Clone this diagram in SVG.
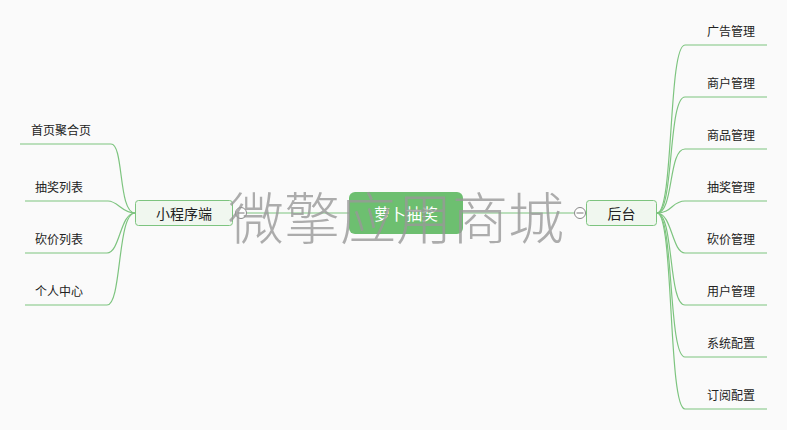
<svg xmlns="http://www.w3.org/2000/svg" width="787" height="430" viewBox="0 0 787 430">
<style>
.bg{fill:#fafafa}
.link{fill:none;stroke:#7dc47f;stroke-width:1.2}
.sub rect{fill:#f0f7ef;stroke:#7dc47f;stroke-width:1}
.sub text{font-family:"Noto Sans CJK SC","Liberation Sans",sans-serif;font-size:14px;fill:#222;text-anchor:middle;dominant-baseline:central}
.leaf text{font-family:"Noto Sans CJK SC","Liberation Sans",sans-serif;font-size:12px;fill:#222;dominant-baseline:central}
.root rect{fill:#6dbf70}
.root text{font-family:"Noto Sans CJK SC","Liberation Sans",sans-serif;font-size:16px;fill:#fff;text-anchor:middle;dominant-baseline:central}
.fold circle{fill:#fff;stroke:#888;stroke-width:1}
.fold line{stroke:#777;stroke-width:1}
.wm{font-family:"Noto Sans CJK SC","Liberation Sans",sans-serif;font-size:56px;font-weight:300;fill:#999;fill-opacity:0.8;text-anchor:middle;dominant-baseline:central}
</style>
<rect class="bg" x="0" y="0" width="787" height="430"/>
<g id="connectors">
  <line class="link" x1="247" y1="213" x2="574" y2="213"/>
  <path class="link" d="M135,213 C118,213 124,144 111,144 L20,144"/>
  <path class="link" d="M135,213 C122,213 118,201 108,201 L25,201"/>
  <path class="link" d="M135,213 C120,213 120,253 107,253 L25,253"/>
  <path class="link" d="M135,213 C117,213 122,305 107,305 L25,305"/>
  <path class="link" d="M657,213 C674,213 668,45 685,45 L767,45"/>
  <path class="link" d="M657,213 C674,213 668,97 685,97 L767,97"/>
  <path class="link" d="M657,213 C674,213 668,149 685,149 L767,149"/>
  <path class="link" d="M657,213 C672,213 672,201 685,201 L767,201"/>
  <path class="link" d="M657,213 C672,213 672,253 685,253 L767,253"/>
  <path class="link" d="M657,213 C674,213 668,305 685,305 L767,305"/>
  <path class="link" d="M657,213 C674,213 668,357 685,357 L767,357"/>
  <path class="link" d="M657,213 C674,213 668,409 685,409 L767,409"/>
</g>
<g id="root" class="root">
  <rect x="349" y="192" width="114" height="42" rx="6"/>
  <text x="406" y="213">萝卜抽奖</text>
</g>
<g id="miniapp" class="sub">
  <rect x="135.5" y="200.5" width="97" height="25" rx="3"/>
  <text x="184" y="213">小程序端</text>
</g>
<g id="miniapp-fold" class="fold">
  <circle cx="241" cy="213" r="5.5"/>
  <line x1="237.5" y1="213" x2="244.5" y2="213"/>
</g>
<g id="admin" class="sub">
  <rect x="586.5" y="200.5" width="70" height="25" rx="3"/>
  <text x="621.5" y="213">后台</text>
</g>
<g id="admin-fold" class="fold">
  <circle cx="580" cy="213" r="5.5"/>
  <line x1="576.5" y1="213" x2="583.5" y2="213"/>
</g>
<g id="l1" class="leaf"><text x="31" y="129">首页聚合页</text></g>
<g id="l2" class="leaf"><text x="35" y="186">抽奖列表</text></g>
<g id="l3" class="leaf"><text x="35" y="238">砍价列表</text></g>
<g id="l4" class="leaf"><text x="35" y="290">个人中心</text></g>
<g id="r1" class="leaf"><text x="707" y="30">广告管理</text></g>
<g id="r2" class="leaf"><text x="707" y="82">商户管理</text></g>
<g id="r3" class="leaf"><text x="707" y="134">商品管理</text></g>
<g id="r4" class="leaf"><text x="707" y="186">抽奖管理</text></g>
<g id="r5" class="leaf"><text x="707" y="238">砍价管理</text></g>
<g id="r6" class="leaf"><text x="707" y="290">用户管理</text></g>
<g id="r7" class="leaf"><text x="707" y="342">系统配置</text></g>
<g id="r8" class="leaf"><text x="707" y="394">订阅配置</text></g>
<text class="wm" x="396" y="214">微擎应用商城</text>
</svg>
